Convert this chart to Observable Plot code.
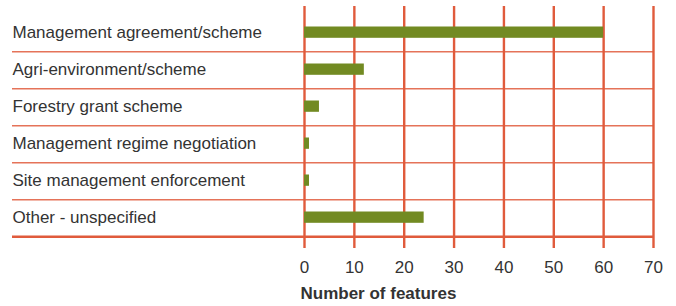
<!DOCTYPE html>
<html>
<head>
<meta charset="utf-8">
<script src="https://cdn.jsdelivr.net/npm/d3@7"></script>
<script src="https://cdn.jsdelivr.net/npm/@observablehq/plot@0.6"></script>
<style>
  html, body { margin: 0; padding: 0; background: #fff; }
  svg { display: block; }
</style>
</head>
<body>
<div id="chart"></div>
<script>
const categories = [
  "Management agreement/scheme",
  "Agri-environment/scheme",
  "Forestry grant scheme",
  "Management regime negotiation",
  "Site management enforcement",
  "Other - unspecified"
];
const values = [60, 12, 3, 1, 1, 24];
const xTicks = [0, 10, 20, 30, 40, 50, 60, 70];
const xTitle = "Number of features";

const data = categories.map((c, i) => ({category: c, value: values[i]}));
const lineColor = "#e05b3c";
const barColor = "#728a22";
const textColor = "#333333";

const marginLeft = 304, marginRight = 23, marginTop = 12.5, marginBottom = 68.3;
const H = 306;
const band = (H - marginTop - marginBottom) / categories.length;

const chart = Plot.plot({
  width: 676,
  height: H,
  marginLeft, marginRight, marginTop, marginBottom,
  style: {fontFamily: "'Liberation Sans', Arial, sans-serif", color: textColor, background: "#fff"},
  x: {domain: [0, 70]},
  y: {domain: categories, padding: 0, axis: null},
  marks: [
    Plot.ruleX(xTicks, {stroke: lineColor, strokeWidth: 2.4, insetTop: -6.5, insetBottom: -10.3}),
    Plot.ruleY(categories.slice(0, -1), {y: d => d, dy: band / 2, stroke: lineColor, strokeOpacity: 0.85, strokeWidth: 1.5, insetLeft: -(marginLeft - 12)}),
    Plot.ruleY(categories.slice(-1), {y: d => d, dy: band / 2, stroke: lineColor, strokeWidth: 2.5, insetLeft: -(marginLeft - 12)}),
    Plot.barX(data, {y: "category", x: "value", fill: barColor, insetTop: 12.5, insetBottom: 13.2}),
    Plot.text(categories, {y: d => d, frameAnchor: "left", textAnchor: "start", dx: -(marginLeft - 12), dy: -0.8, fontSize: 17, fill: textColor}),
    Plot.axisX(xTicks, {tickSize: 0, tickPadding: 22.5, fontSize: 17, label: null, fill: textColor}),
    Plot.text([xTitle], {frameAnchor: "bottom-left", textAnchor: "start", dx: -4, dy: 61, fontSize: 17, fontWeight: "bold", fill: textColor})
  ]
});
document.getElementById("chart").appendChild(chart);
</script>
</body>
</html>
